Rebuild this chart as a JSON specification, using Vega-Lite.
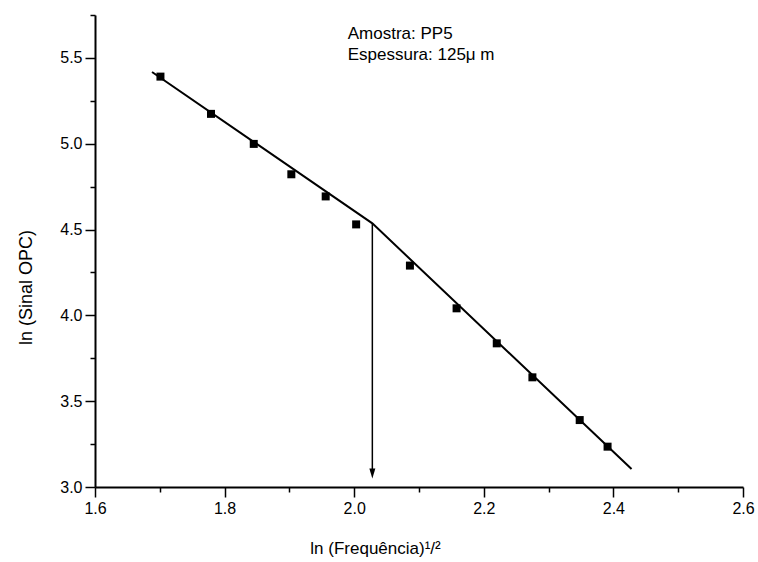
{
  "$schema": "https://vega.github.io/schema/vega-lite/v6.json",
  "width": 648,
  "height": 472,
  "autosize": {"type": "none"},
  "padding": {"left": 95, "top": 15, "right": 15, "bottom": 75},
  "background": "white",
  "config": {"view": {"stroke": null}, "font": "Liberation Sans"},
  "datasets": {
    "points": [
      {"x": 1.701, "y": 5.391},
      {"x": 1.779, "y": 5.174},
      {"x": 1.845, "y": 4.999},
      {"x": 1.903, "y": 4.822},
      {"x": 1.956, "y": 4.693},
      {"x": 2.003, "y": 4.530},
      {"x": 2.086, "y": 4.290},
      {"x": 2.158, "y": 4.041},
      {"x": 2.220, "y": 3.837},
      {"x": 2.275, "y": 3.639},
      {"x": 2.348, "y": 3.390},
      {"x": 2.391, "y": 3.235}
    ],
    "fit": [
      {"x": 1.688, "y": 5.418},
      {"x": 2.028, "y": 4.536},
      {"x": 2.428, "y": 3.105}
    ],
    "arrow": [
      {"x": 2.028, "y": 4.536},
      {"x": 2.028, "y": 3.1}
    ],
    "arrowhead": [
      {"x": 2.028, "y": 3.05}
    ],
    "notes": [
      {"x": 1.99, "y": 5.611, "label": "Amostra: PP5"},
      {"x": 1.99, "y": 5.488, "label": "Espessura: 125μ m"}
    ]
  },
  "layer": [
    {
      "data": {"name": "fit"},
      "mark": {"type": "line", "color": "black", "strokeWidth": 2},
      "encoding": {
        "x": {
          "field": "x", "type": "quantitative",
          "scale": {"domain": [1.6, 2.6], "nice": false, "zero": false},
          "axis": {
            "values": [1.6, 1.7, 1.8, 1.9, 2.0, 2.1, 2.2, 2.3, 2.4, 2.5, 2.6],
            "labelExpr": "round(datum.value*10) % 2 == 0 ? format(datum.value, '.1f') : ''",
            "tickSize": {"condition": {"test": "round(datum.value*10) % 2 == 0", "value": 10}, "value": 5},
            "grid": false,
            "domainColor": "black", "domainWidth": 2,
            "tickColor": "black", "tickWidth": 1.5,
            "labelFont": "Liberation Sans", "labelFontSize": 16, "labelColor": "black",
            "labelPadding": 3, "labelOverlap": false, "labelFlush": false,
            "title": "ln (Frequência)¹/²",
            "titleFont": "Liberation Sans", "titleFontSize": 17, "titleFontWeight": "normal", "titleColor": "black",
            "titleX": 280, "titleY": 66, "titleAlign": "center", "titleBaseline": "alphabetic"
          }
        },
        "y": {
          "field": "y", "type": "quantitative",
          "scale": {"domain": [3.0, 5.75], "nice": false, "zero": false},
          "axis": {
            "values": [3.0, 3.25, 3.5, 3.75, 4.0, 4.25, 4.5, 4.75, 5.0, 5.25, 5.5, 5.75],
            "labelExpr": "round(datum.value*4) % 2 == 0 ? format(datum.value, '.1f') : ''",
            "tickSize": {"condition": {"test": "round(datum.value*4) % 2 == 0", "value": 10}, "value": 5},
            "grid": false,
            "domainColor": "black", "domainWidth": 2,
            "tickColor": "black", "tickWidth": 1.5,
            "labelFont": "Liberation Sans", "labelFontSize": 16, "labelColor": "black",
            "labelPadding": 3, "labelOverlap": false, "labelFlush": false,
            "title": "ln (Sinal OPC)",
            "titleFont": "Liberation Sans", "titleFontSize": 18, "titleFontWeight": "normal", "titleColor": "black",
            "titleX": -64, "titleY": 272, "titleAlign": "center", "titleBaseline": "alphabetic", "titleAngle": -90
          }
        }
      }
    },
    {
      "data": {"name": "arrow"},
      "mark": {"type": "line", "color": "black", "strokeWidth": 1.5},
      "encoding": {
        "x": {"field": "x", "type": "quantitative"},
        "y": {"field": "y", "type": "quantitative"}
      }
    },
    {
      "data": {"name": "arrowhead"},
      "mark": {"type": "point", "shape": "M -0.3 -1 L 0.3 -1 L 0 0 Z", "size": 400, "filled": true, "color": "black", "opacity": 1},
      "encoding": {
        "x": {"field": "x", "type": "quantitative"},
        "y": {"field": "y", "type": "quantitative"}
      }
    },
    {
      "data": {"name": "points"},
      "mark": {"type": "point", "shape": "square", "size": 64, "filled": true, "color": "black", "opacity": 1},
      "encoding": {
        "x": {"field": "x", "type": "quantitative"},
        "y": {"field": "y", "type": "quantitative"}
      }
    },
    {
      "data": {"name": "notes"},
      "mark": {"type": "text", "align": "left", "baseline": "alphabetic", "font": "Liberation Sans", "fontSize": 17, "color": "black"},
      "encoding": {
        "x": {"field": "x", "type": "quantitative"},
        "y": {"field": "y", "type": "quantitative"},
        "text": {"field": "label", "type": "nominal"}
      }
    }
  ]
}
